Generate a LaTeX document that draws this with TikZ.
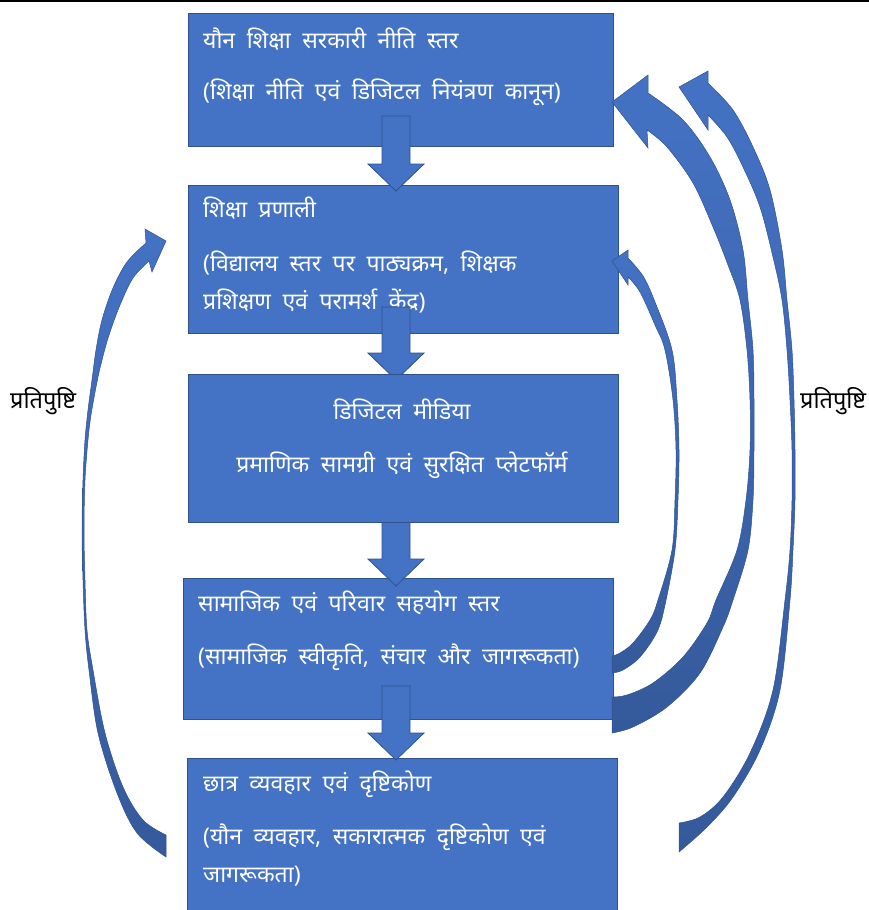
\documentclass[tikz,border=0pt]{standalone}
\usepackage{fontspec}
\newfontfamily\deva[Script=Devanagari]{Noto Sans}
\usetikzlibrary{calc}
\definecolor{boxblue}{HTML}{4472C4}
\definecolor{boxline}{HTML}{2F528F}
\definecolor{arrdark}{HTML}{355A9B}
\newcommand\txtfont{\deva\fontsize{23}{27}\selectfont\spaceskip=0.5em\relax}
\newcommand\lblfont{\deva\fontsize{23.5}{27}\selectfont}
\newcommand\blockdown[4]{%
  \path[blockarr] let \p1=(#1.south), \p2=(#2.north) in
    (382pt,\y1+#3) -- (410pt,\y1+#3) -- (410pt,\y2-#4+27pt) -- (424pt,\y2-#4+27pt)
    -- (396pt,\y2-#4) -- (368pt,\y2-#4+27pt) -- (382pt,\y2-#4+27pt) -- cycle;}
\begin{document}
\begin{tikzpicture}[x=1pt,y=-1pt,
  box/.style={draw=boxline, fill=boxblue, line width=0.8pt, inner sep=0pt, outer sep=0pt},
  txt/.style={text=white, inner sep=0pt, font=\txtfont},
  lbl/.style={text=black, inner sep=0pt, font=\lblfont},
  blockarr/.style={draw=boxline, fill=boxblue, line width=0.8pt},
  curvarr/.style={draw=boxline, line width=0.5pt, top color=boxblue, bottom color=arrdark},
  tens/.style={smooth, tension=0.55}]
\useasboundingbox (0,0) rectangle (869,910);
\draw[line width=1.5pt] (0,0.75) -- (869,0.75);

% boxes 1, 2, 4, 5
\node[box, minimum width=425pt, minimum height=133pt] (b1) at (400.5,79.5) {};
\node[box, minimum width=430pt, minimum height=148pt] (b2) at (403,259) {};
\node[box, minimum width=430pt, minimum height=141pt] (b4) at (398,648.5) {};
\node[box, minimum width=430pt, minimum height=182pt] (b5) at (402,849) {};

\node[txt, anchor=base west] (t1a) at (203,48) {यौन शिक्षा सरकारी नीति स्तर};
\node[txt, anchor=base west] (t1b) at (203,99) {(शिक्षा नीति एवं डिजिटल नियंत्रण कानून)};
\node[txt, anchor=base west] (t2a) at (203,217) {शिक्षा प्रणाली};
\node[txt, anchor=base west] (t2b) at (203,271) {(विद्यालय स्तर पर पाठ्यक्रम, शिक्षक};
\node[txt, anchor=base west] (t2c) at (203,309) {प्रशिक्षण एवं परामर्श केंद्र)};
\node[txt, anchor=base west] (t4a) at (198,611) {सामाजिक एवं परिवार सहयोग स्तर};
\node[txt, anchor=base west] (t4b) at (198,664) {(सामाजिक स्वीकृति, संचार और जागरूकता)};
\node[txt, anchor=base west] (t5a) at (203,791) {छात्र व्यवहार एवं दृष्टिकोण};
\node[txt, anchor=base west] (t5b) at (203,844) {(यौन व्यवहार, सकारात्मक दृष्टिकोण एवं};
\node[txt, anchor=base west] (t5c) at (203,882) {जागरूकता)};

% anchors of box 3 (box drawn later, on top)
\path (403,374) coordinate (b3n) (403,522) coordinate (b3s);

% block arrows
\blockdown{b1}{b2}{30pt}{6pt}
\path[blockarr] let \p1=(b2.south), \p2=(b3n) in
    (382pt,\y1+26pt) -- (410pt,\y1+26pt) -- (410pt,\y2-6pt+27pt) -- (424pt,\y2-6pt+27pt)
    -- (396pt,\y2-6pt) -- (368pt,\y2-6pt+27pt) -- (382pt,\y2-6pt+27pt) -- cycle;
\path[blockarr] let \p1=(b3s), \p2=(b4.north) in
    (382pt,\y1+10pt) -- (410pt,\y1+10pt) -- (410pt,\y2-8pt+27pt) -- (424pt,\y2-8pt+27pt)
    -- (396pt,\y2-8pt) -- (368pt,\y2-8pt+27pt) -- (382pt,\y2-8pt+27pt) -- cycle;
\blockdown{b4}{b5}{33pt}{2pt}

% box 3 on top
\node[box, minimum width=430pt, minimum height=148pt] (b3) at (403,448) {};
\node[txt, anchor=base] (t3a) at (402,419) {डिजिटल मीडिया};
\node[txt, anchor=base] (t3b) at (402,472) {प्रमाणिक सामग्री एवं सुरक्षित प्लेटफॉर्म};

% curved feedback arrows
% left: box 5 -> box 2
\path[curvarr] plot[tens] coordinates {(166,857) (137,833) (117,793) (98,733) (89,670) (85,630) (83,580) (82,530) (83,480) (85,440) (88,410) (92,380) (96,350) (102,320) (113,288) (127,262) (146,243)}
  -- (145,229) -- (166,241) -- (152,272)
  -- plot[tens] coordinates {(149,261) (133,278) (120,305) (109,335) (102,360) (97,382) (91,415) (88,440) (85,480) (84,530) (85,580) (87,630) (93,670) (105,733) (123,787) (143,820) (166,835)} -- cycle;
% inner right: box 4 -> box 2
\path[curvarr] plot[tens] coordinates {(612,673) (623,670) (640,657) (657,632) (665,605) (675,550) (678,500) (679,450) (677,400) (672,350) (655,302) (643,276) (628,258)}
  -- (628,250) -- (612,261) -- (628,285)
  -- plot[tens] coordinates {(628,277) (640,292) (655,325) (665,350) (673,400) (676,450) (675,500) (672,550) (658,600) (650,620) (633,643) (620,653) (612,656)} -- cycle;
% middle right: box 4 -> box 1
\path[curvarr] plot[tens] coordinates {(612,733) (633,727) (667,707) (700,673) (723,627) (733,600) (748,550) (753,500) (754,450) (754,400) (753,350) (748,300) (743,250) (730,200) (710,157) (683,120) (648,93)}
  -- (648,75) -- (612,102) -- (648,148)
  -- plot[tens] coordinates {(647,130) (667,147) (693,183) (713,227) (728,265) (740,300) (747,350) (750,400) (750,450) (746,500) (737,550) (716,600) (707,623) (683,657) (653,683) (627,695) (612,697)} -- cycle;
% outer right: box 5 -> box 1
\path[curvarr] plot[tens] coordinates {(679,852) (707,827) (733,797) (760,750) (780,690) (790,600) (793,550) (795,500) (795,450) (794,400) (792,350) (787,300) (782,250) (770,190) (753,147) (733,110) (708,83)}
  -- (708,71) -- (679,87) -- (708,130)
  -- plot[tens] coordinates {(708,115) (727,137) (743,167) (760,207) (773,257) (782,300) (787,350) (790,400) (792,450) (792,500) (790,550) (785,600) (773,690) (750,753) (723,797) (700,817) (679,823)} -- cycle;

\node[lbl, anchor=base west] (fbL) at (10,408) {प्रतिपुष्टि};
\node[lbl, anchor=base west] (fbR) at (800,408) {प्रतिपुष्टि};
\end{tikzpicture}
\end{document}
